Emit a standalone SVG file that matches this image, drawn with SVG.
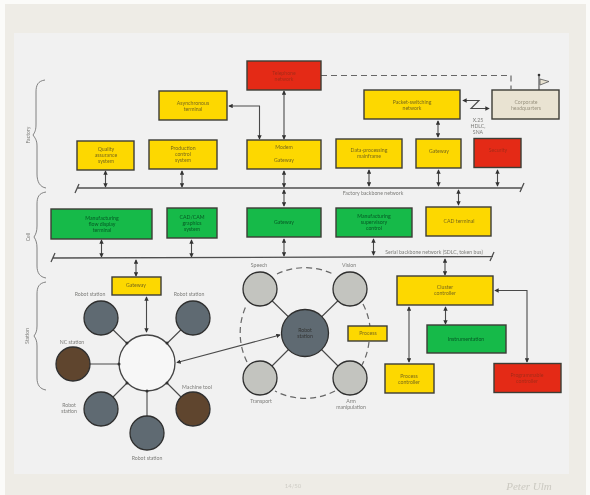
<svg xmlns="http://www.w3.org/2000/svg" width="590" height="495" viewBox="0 0 590 495">
<style>
text{font-family:"Lato","Liberation Sans",sans-serif;font-size:5.2px;text-anchor:middle;fill:#7d7d7a}
.b{stroke:#3c3c36;stroke-width:1.4}
.y{fill:#fdd805}.g{fill:#14ba49}.r{fill:#e42c18}.c{fill:#e9e3d2}
.y~text{fill:#7a6a10}.g~text{fill:#0d5a24}.r~text{fill:#a8281a}.c~text{fill:#9b9480}
.l,.a{fill:none;stroke:#4a4a4a;stroke-width:1.1}
.a{marker-start:url(#h);marker-end:url(#h)}
.bus{fill:none;stroke:#4f4f4f;stroke-width:1.3}
.br{fill:none;stroke:#666;stroke-width:.8}
.d{fill:none;stroke:#666;stroke-width:1.2;stroke-dasharray:6 4}
.ci{stroke:#2f2f2f;stroke-width:1.3}
.gy{fill:#5f6b72}.br2{fill:#5e452f}.lg{fill:#c3c4bf}
.dk{fill:#333}
</style>
<defs>
<marker id="h" viewBox="0 0 6 6" refX="5" refY="3" markerWidth="4" markerHeight="4" orient="auto-start-reverse"><path d="M0 0L6 3L0 6Z" fill="#333"/></marker>
<filter id="s" x="0" y="0" width="1" height="1"><feGaussianBlur stdDeviation=".55"/></filter>
</defs>
<rect width="590" height="495" fill="#fbfbf9"/>
<g filter="url(#s)">
<rect x="5" y="4" width="581" height="491" fill="#eeece6"/>
<rect x="14" y="33" width="555" height="441" fill="#f1f1f1"/>
<g id="connectors">
<path class="a" d="M284 91V139"/>
<path class="a" d="M229 106H259.500V139"/>
<path class="a" d="M105.500 171V187"/>
<path class="a" d="M182 171V187"/>
<path class="a" d="M284 171V187"/>
<path class="a" d="M284 190V206"/>
<path class="a" d="M369 170V186"/>
<path class="a" d="M438.500 170V186"/>
<path class="a" d="M497.500 170V186"/>
<path class="a" d="M458.500 190V205"/>
<path class="a" d="M438 121V137"/>
<path class="a" d="M101.500 240V257"/>
<path class="a" d="M191.500 240V257"/>
<path class="a" d="M284 239V256"/>
<path class="a" d="M373.500 239V255"/>
<path class="a" d="M136 260V276"/>
<path class="a" d="M445 259V275"/>
<path class="a" d="M146.500 297V332"/>
<path class="a" d="M177 362.500L280 335"/>
<path class="a" d="M409 307V362"/>
<path class="a" d="M445.500 307V324"/>
<path class="a" d="M495 290.500H527V362"/>
<path class="a" d="M463 100.500H479L471 108.500H489"/>
<path class="d" d="M321 75.500H511V89"/>
<path class="l" d="M101 318L147 363M193 318L147 363M73 364H147M101 409L147 363M193 409L147 363M147 433V363"/>
<path class="l" d="M260 289L305 333M350 289L305 333M260 378L305 333M350 378L305 333"/>
<path class="d" d="M277 274A65 65 0 0 1 333 274M363 304A65 65 0 0 1 370 327M369 342A65 65 0 0 1 362 365M335 391A65 65 0 0 1 275 391M247 362A65 65 0 0 1 247 304"/>
<path class="bus" d="M77 188H522M75 193L79 184M520 192L524 183"/>
<path class="bus" d="M53 258L493 256.500M51 262L55 253M490 261L494 252"/>
<path class="br" d="M45 80C38 81 36 85 36 92V124C36 130 35 132 33 135C35 138 37 140 37 146V174C37 182 40 187 46 188"/>
<path class="br" d="M46 192C39 193 37 197 37 204V226C37 231 36 234 34 237C36 240 37 243 37 248V266C37 273 40 277 46 278"/>
<path class="br" d="M46 282C39 283 37 287 37 294V326C37 331 36 333 34 336C36 339 37 341 37 346V378C37 385 40 389 46 390"/>
<path class="l" d="M539 75V90"/>
</g>
<circle class="dk" cx="539" cy="75" r="1.300"/>
<path d="M540 79L549 81.500L540 85Z" fill="#e9e3d2" stroke="#555" stroke-width=".8"/>
<g id="telephone"><rect class="b r" x="247" y="61" width="74" height="29"/><text x="284" y="74.500">Telephone</text><text x="284" y="80.500">network</text></g>
<g id="async"><rect class="b y" x="159" y="91" width="68" height="29"/><text x="193" y="105">Asynchronous</text><text x="193" y="111">terminal</text></g>
<g id="qa"><rect class="b y" x="77" y="141" width="57" height="29"/><text x="106" y="151">Quality</text><text x="106" y="157">assurance</text><text x="106" y="163">system</text></g>
<g id="production"><rect class="b y" x="149" y="140" width="68" height="29"/><text x="183" y="150">Production</text><text x="183" y="156">control</text><text x="183" y="162">system</text></g>
<g id="modem"><rect class="b y" x="247" y="140" width="74" height="29"/><text x="284" y="149">Modem</text><text x="284" y="162">Gateway</text></g>
<g id="dataproc"><rect class="b y" x="336" y="139" width="66" height="29"/><text x="369" y="152">Data-processing</text><text x="369" y="158">mainframe</text></g>
<g id="gateway1"><rect class="b y" x="416" y="139" width="45" height="29"/><text x="439" y="153">Gateway</text></g>
<g id="security"><rect class="b r" x="474" y="138.500" width="47" height="29"/><text x="498" y="152">Security</text></g>
<g id="packet"><rect class="b y" x="364" y="90" width="96" height="29"/><text x="412" y="104">Packet-switching</text><text x="412" y="110">network</text></g>
<g id="corporate"><rect class="b c" x="492" y="90" width="67" height="29"/><text x="526" y="104">Corporate</text><text x="526" y="110">headquarters</text></g>
<g id="flow"><rect class="b g" x="51" y="209" width="101" height="30"/><text x="102" y="220">Manufacturing</text><text x="102" y="226">flow display</text><text x="102" y="232">terminal</text></g>
<g id="cadcam"><rect class="b g" x="167" y="208" width="50" height="30"/><text x="192" y="219">CAD/CAM</text><text x="192" y="225">graphics</text><text x="192" y="231">system</text></g>
<g id="gateway2"><rect class="b g" x="247" y="208" width="74" height="29"/><text x="284" y="224">Gateway</text></g>
<g id="supervisory"><rect class="b g" x="336" y="208" width="76" height="29"/><text x="374" y="218">Manufacturing</text><text x="374" y="224">supervisory</text><text x="374" y="230">control</text></g>
<g id="cad"><rect class="b y" x="426" y="207" width="65" height="29"/><text x="459" y="223">CAD terminal</text></g>
<g id="gateway3"><rect class="b y" x="112" y="277" width="49" height="18"/><text x="136" y="287">Gateway</text></g>
<g id="cluster"><rect class="b y" x="397" y="276" width="96" height="29"/><text x="445" y="289">Cluster</text><text x="445" y="295">controller</text></g>
<g id="instrumentation"><rect class="b g" x="427" y="325" width="79" height="28"/><text x="466" y="341">Instrumentation</text></g>
<g id="processctl"><rect class="b y" x="385" y="364" width="49" height="29"/><text x="409" y="378">Process</text><text x="409" y="384">controller</text></g>
<g id="programmable"><rect class="b r" x="494" y="363.500" width="67" height="29"/><text x="527" y="377">Programmable</text><text x="527" y="383">controller</text></g>
<g id="process"><rect class="b y" x="348" y="326" width="39" height="15"/><text x="368" y="335">Process</text></g>
<g id="hub"><circle cx="147" cy="363" r="28" fill="#f7f7f7" stroke="#444" stroke-width="1.3"/><path class="dk" d="M127 343m-1.500 0a1.500 1.500 0 1 0 3 0a1.500 1.500 0 1 0 -3 0M167 343m-1.500 0a1.500 1.500 0 1 0 3 0a1.500 1.500 0 1 0 -3 0M119 364m-1.500 0a1.500 1.500 0 1 0 3 0a1.500 1.500 0 1 0 -3 0M127 383m-1.500 0a1.500 1.500 0 1 0 3 0a1.500 1.500 0 1 0 -3 0M167 383m-1.500 0a1.500 1.500 0 1 0 3 0a1.500 1.500 0 1 0 -3 0M147 391m-1.500 0a1.500 1.500 0 1 0 3 0a1.500 1.500 0 1 0 -3 0"/></g>
<g id="rs1"><circle class="ci gy" cx="101" cy="318" r="17"/><text x="90" y="296">Robot station</text></g>
<g id="rs2"><circle class="ci gy" cx="193" cy="318" r="17"/><text x="189" y="295.500">Robot station</text></g>
<g id="nc"><circle class="ci br2" cx="73" cy="364" r="17"/><text x="72" y="344">NC station</text></g>
<g id="rs3"><circle class="ci gy" cx="101" cy="409" r="17"/><text x="69" y="407">Robot</text><text x="69" y="413">station</text></g>
<g id="machine"><circle class="ci br2" cx="193" cy="409" r="17"/><text x="197" y="389">Machine tool</text></g>
<g id="rs4"><circle class="ci gy" cx="147" cy="433" r="17"/><text x="147" y="460">Robot station</text></g>
<g id="robot"><circle class="ci gy" cx="305" cy="333" r="23.500"/><text x="305" y="332" style="fill:#333">Robot</text><text x="305" y="338" style="fill:#333">station</text></g>
<g id="speech"><circle class="ci lg" cx="260" cy="289" r="17"/><text x="259" y="267">Speech</text></g>
<g id="vision"><circle class="ci lg" cx="350" cy="289" r="17"/><text x="349" y="267">Vision</text></g>
<g id="transport"><circle class="ci lg" cx="260" cy="378" r="17"/><text x="261" y="403">Transport</text></g>
<g id="arm"><circle class="ci lg" cx="350" cy="378" r="17"/><text x="351" y="403">Arm</text><text x="351" y="409">manipulation</text></g>
<g id="labels">
<text x="373" y="195">Factory backbone network</text>
<text x="434" y="254">Serial backbone network (SDLC, token bus)</text>
<text x="478" y="122">X.25</text><text x="478" y="128">HDLC,</text><text x="478" y="134">SNA</text>
<text transform="translate(30 135) rotate(-90)">Factory</text>
<text transform="translate(30 237) rotate(-90)">Cell</text>
<text transform="translate(29 336) rotate(-90)">Station</text>
<text x="293" y="488" style="fill:#cfcdc6;font-size:6px">14/50</text>
<text x="529" y="490" style="fill:#cbc9c1;font-size:11px;font-style:italic;font-family:'Liberation Serif',serif">Peter Ulm</text>
</g>
</g>
</svg>
